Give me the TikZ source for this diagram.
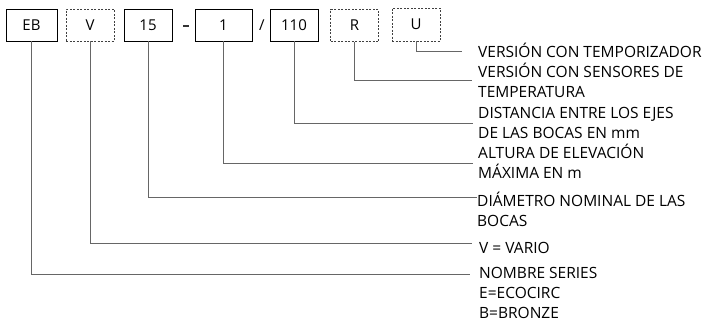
\documentclass[tikz,border=0pt]{standalone}
\usepackage{fontspec}
\setmainfont{Open Sans}
\begin{document}
\begin{tikzpicture}[x=1pt,y=-1pt,
  codebox/.style={draw=black,line width=0.9pt,minimum height=32pt,inner sep=0pt,font=\fontsize{15}{15}\selectfont},
  optbox/.style={codebox,draw=black!75,dashed,dash pattern=on 2pt off 1.5pt},
  conn/.style={draw=black!60,line width=1pt},
  lbl/.style={anchor=west,inner sep=0pt,align=left,font=\fontsize{15.5}{20}\selectfont},
  sep/.style={inner sep=0pt,font=\fontsize{15}{15}\selectfont}]
\useasboundingbox (0,0) rectangle (716,322);
\node[codebox,minimum width=51pt] (eb) at (31.5,25) {EB};
\node[optbox,minimum width=48pt] (v) at (90,25) {V};
\node[codebox,minimum width=48pt] (d15) at (148,25) {15};
\node[inner sep=0pt,minimum width=6pt,minimum height=2.6pt,fill=black!80] (dash) at (185.5,26) {};
\node[sep] (slash) at (262,25) {/};
\node[codebox,minimum width=57pt] (d1) at (223.5,25) {1};
\node[codebox,minimum width=48pt] (d110) at (294,25) {110};
\node[optbox,minimum width=48pt] (r) at (354.5,25.5) {R};
\node[optbox,minimum width=48pt,minimum height=33pt] (u) at (416,24.5) {U};
% labels
\node[lbl] (lu) at (478,50) {VERSIÓN CON TEMPORIZADOR};
\node[lbl] (lr) at (478,80) {VERSIÓN CON SENSORES DE\\TEMPERATURA};
\node[lbl] (l110) at (478,123) {DISTANCIA ENTRE LOS EJES\\DE LAS BOCAS EN mm};
\node[lbl] (l1) at (478,161) {ALTURA DE ELEVACIÓN\\MÁXIMA EN m};
\node[lbl] (l15) at (477,209) {DIÁMETRO NOMINAL DE LAS\\BOCAS};
\node[lbl] (lv) at (479,248) {V = VARIO};
\node[lbl] (leb) at (479,293) {NOMBRE SERIES\\E=ECOCIRC\\B=BRONZE};
% connector end points
\coordinate (eu) at (462,51);
\coordinate (er) at (472,80);
\coordinate (e110) at (473,123);
\coordinate (e1) at (473,163);
\coordinate (e15) at (477,197);
\coordinate (ev) at (472,243);
\coordinate (eeb) at (470,274);
\draw[conn] (u.south) |- (eu);
\draw[conn] (r.south) |- (er);
\draw[conn] (d110.south) |- (e110);
\draw[conn] (d1.south) |- (e1);
\draw[conn] (d15.south) |- (e15);
\draw[conn] (v.south) |- (ev);
\draw[conn] (eb.south) |- (eeb);
\end{tikzpicture}
\end{document}
